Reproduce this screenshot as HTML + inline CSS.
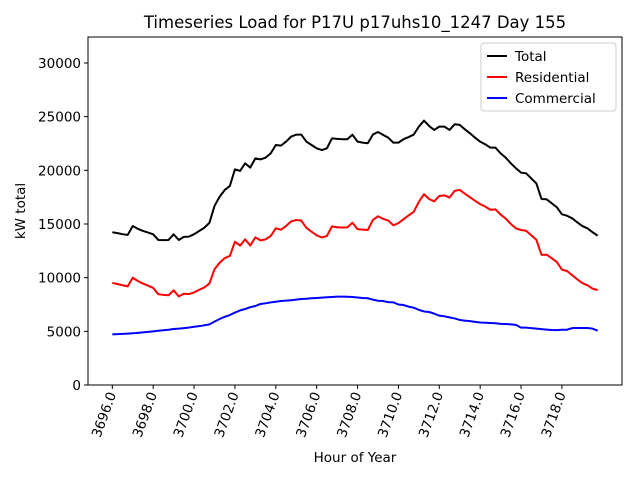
<!DOCTYPE html>
<html><head><meta charset="utf-8"><style>
body{margin:0;background:#fff}
svg{display:block;font-family:"DejaVu Sans","Liberation Sans",sans-serif}
</style></head><body>
<svg id="chart" width="640" height="480">
<rect width="640" height="480" fill="#fff"/>
<text x="355" y="28" font-size="16.5" text-anchor="middle">Timeseries Load for P17U p17uhs10_1247  Day 155</text>
<g id="grid"></g>
<g id="series"></g>
<rect x="88" y="37" width="534" height="348" fill="none" stroke="#000" stroke-width="1"/>
<text x="355" y="462" font-size="13.5" text-anchor="middle">Hour of Year</text>
<text transform="translate(25,211) rotate(-90)" font-size="13.5" text-anchor="middle">kW total</text>
<g>
<rect x="481" y="43" width="135" height="68" rx="3" fill="#fff" fill-opacity="0.8" stroke="#ccc"/>
<line x1="487" y1="56" x2="507" y2="56" stroke="#000" stroke-width="2"/>
<text x="515" y="61" font-size="13.5">Total</text>
<line x1="487" y1="77" x2="507" y2="77" stroke="#f00" stroke-width="2"/>
<text x="515" y="82" font-size="13.5">Residential</text>
<line x1="487" y1="98" x2="507" y2="98" stroke="#00f" stroke-width="2"/>
<text x="515" y="103" font-size="13.5">Commercial</text>
</g>
</svg>
<script>
const startHour = 3696;
const stepHours = 0.25;
const total = [14230,14150,14050,13980,14810,14550,14350,14200,14040,13510,13500,13510,14040,13510,13800,13820,14050,14350,14650,15100,16680,17540,18170,18540,20090,19940,20650,20250,21110,21020,21180,21580,22360,22300,22670,23140,23320,23320,22670,22360,22050,21890,22050,22980,22930,22900,22900,23320,22670,22580,22520,23330,23570,23300,23040,22580,22580,22900,23100,23330,24070,24630,24130,23760,24070,24070,23760,24290,24230,23820,23450,23040,22670,22420,22110,22110,21580,21180,20650,20190,19780,19720,19250,18780,17330,17300,16930,16560,15900,15770,15530,15160,14810,14600,14230,13910];
const residential = [9510,9410,9290,9190,9990,9690,9450,9250,9040,8460,8400,8360,8820,8260,8500,8470,8620,8870,9090,9450,10780,11390,11820,12020,13340,12990,13570,13000,13750,13470,13570,13880,14600,14470,14810,15240,15370,15310,14630,14280,13940,13750,13880,14780,14700,14670,14680,15120,14520,14480,14440,15380,15720,15480,15320,14880,15080,15450,15800,16130,17070,17780,17330,17110,17610,17670,17460,18090,18170,17820,17500,17160,16850,16620,16330,16360,15880,15500,15000,14590,14440,14370,13950,13530,12130,12140,11810,11450,10750,10620,10230,9850,9500,9290,8980,8850];
const commercial = [4720,4740,4760,4790,4820,4860,4900,4950,5000,5050,5100,5150,5220,5250,5300,5350,5430,5480,5560,5650,5900,6150,6350,6520,6750,6950,7080,7250,7360,7550,7610,7700,7760,7830,7860,7900,7950,8010,8040,8080,8110,8140,8170,8200,8230,8230,8220,8200,8150,8100,8080,7950,7850,7820,7720,7700,7500,7450,7300,7200,7000,6850,6800,6650,6460,6400,6300,6200,6060,6000,5950,5880,5820,5800,5780,5750,5700,5680,5650,5600,5340,5350,5300,5250,5200,5160,5120,5110,5150,5150,5300,5310,5310,5310,5250,5060];
const yTicks = [0,5000,10000,15000,20000,25000,30000];
const xTicks = [3696,3698,3700,3702,3704,3706,3708,3710,3712,3714,3716,3718];
const xMin = 3694.81, xMax = 3720.94, yMin = 0, yMax = 32420;
const L = 88, R = 622, T = 37, B = 385;
function xs(v){return L + (v - xMin) / (xMax - xMin) * (R - L);}
function ys(v){return B - (v - yMin) / (yMax - yMin) * (B - T);}
const NS = "http://www.w3.org/2000/svg";
const grid = document.getElementById('grid');
const ser = document.getElementById('series');
function mk(tag, attrs, parent){const e=document.createElementNS(NS,tag);for(const k in attrs)e.setAttribute(k,attrs[k]);parent.appendChild(e);return e;}
yTicks.forEach(v=>{
  const y = ys(v);
  const t = mk('line',{x1:L-4,x2:L,y1:y,y2:y,stroke:'#000'},grid);
  
  
  const lb = mk('text',{x:L-7,y:y+5,'font-size':'13.5','text-anchor':'end'},grid);
  lb.textContent = String(v);
  
  
});
xTicks.forEach(v=>{
  const x = xs(v);
  const t = mk('line',{x1:x,x2:x,y1:B,y2:B+4,stroke:'#000'},grid);
  
  
  const lb = mk('text',{transform:'translate('+(x+4)+','+(B+9)+') rotate(-70)','font-size':'13.5','text-anchor':'end'},grid);
  lb.textContent = v.toFixed(1);
  
  
});
function line(arr, color, name){
  const pts = arr.map((v,i)=>xs(startHour + i*stepHours).toFixed(2)+','+ys(v).toFixed(2)).join(' ');
  const p = mk('polyline',{points:pts,fill:'none',stroke:color,'stroke-width':'2','stroke-linejoin':'round'},ser);
  
  
}
line(total,'#000','total-line');
line(residential,'#f00','residential-line');
line(commercial,'#00f','commercial-line');
</script>
</body></html>
